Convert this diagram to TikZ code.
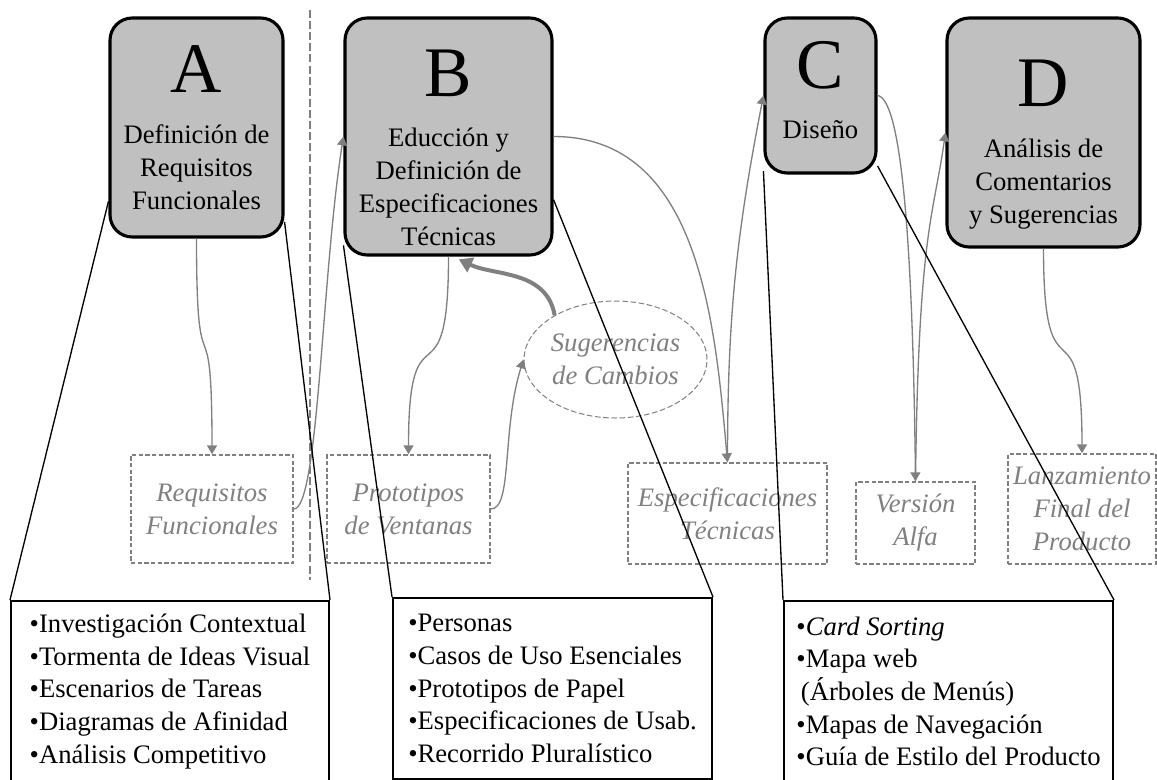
\documentclass[tikz,border=0pt]{standalone}
\usepackage{fontspec}
\setmainfont{Liberation Serif}
\usepackage{tikz}
\usepackage{xcolor}
\usetikzlibrary{shapes.geometric,
	arrows.meta,
	positioning}

\definecolor{stagefill}{HTML}{C0C0C0}
\definecolor{linkgray}{HTML}{808080}

\tikzset{
	dims/.style 2 args={minimum width=#1*0.45pt, minimum height=#2*0.45pt},
	stage/.style={draw, line width=1.4pt, rounded corners=10pt, fill=stagefill, align=center, inner sep=0pt, font=\fontsize{12}{14.8}\selectfont},
	product/.style={draw=linkgray, text=linkgray, dash pattern=on 2pt off 1pt, line width=0.7pt, align=center, inner sep=1pt, font=\itshape\fontsize{12}{14.8}\selectfont},
	idea/.style={ellipse, draw=linkgray, text=linkgray, dash pattern=on 2.5pt off 1.2pt, line width=0.45pt, align=center, inner sep=0pt, font=\itshape\fontsize{12}{14.8}\selectfont},
	techlist/.style={draw, line width=0.9pt, anchor=north west, align=left, inner sep=0pt, font=\fontsize{12}{14.7}\selectfont},
	conn/.style={draw=linkgray, line width=0.6pt, -{Triangle[width=4.5pt,length=4pt]}},
	feedback/.style={draw=linkgray, line width=1.8pt, -{Triangle[width=7pt,length=6pt]}},
	callout/.style={draw=black, line width=0.6pt}
}

\newcommand{\stageletter}[2][0pt]{{\fontsize{32}{32}\selectfont\rule{0pt}{#1}#2}}

\begin{document}
\begin{tikzpicture}[x=0.45pt, y=0.45pt]
                            \useasboundingbox (0,0) rectangle (1157,-779);
                            \node (boxA) [stage, dims={173}{219}] at (196.5,-127.5) {\stageletter[26pt]{A}\\[8pt] Definición de\\ Requisitos\\ Funcionales\rule[-5pt]{0pt}{5pt}};
                            \node (boxB) [stage, dims={207}{237}] at (448.5,-136.5) {\stageletter[31pt]{B}\\[8pt] Educción y\\ Definición de\\ Especificaciones\\ Técnicas};
                            \node (boxC) [stage, dims={111}{155}] at (820.5,-95.5) {\stageletter{C}\\[8pt] Diseño\rule[-5pt]{0pt}{5pt}};
                            \node (boxD) [stage, dims={193}{229}] at (1043.5,-132.5) {\stageletter[32pt]{D}\\[8pt] Análisis de\\ Comentarios\\ y Sugerencias};
                            \draw [linkgray, line width=0.7pt, dash pattern=on 3.6pt off 1.4pt] (310,-10) -- (310,-580);
                            \node (req) [product, dims={162}{108}] at (212,-509) {Requisitos\\ Funcionales};
                            \node (proto) [product, dims={163}{108}] at (408.5,-509) {Prototipos\\ de Ventanas};
                            \node (sug) [idea, dims={163}{117}] at (615.5,-359.5) {Sugerencias\\ de Cambios};
                            \node (espec) [product, dims={199}{101}] at (727.5,-513.5) {Especificaciones\\ Técnicas};
                            \node (alfa) [product, dims={119}{82}] at (915.5,-523) {Versión\\ Alfa};
                            \node (lanz) [product, dims={148}{110}] at (1082,-509) {Lanzamiento\\ Final del\\ Producto};
                            \node (bot1) [techlist, dims={318}{181}] at (10,-600) {•Investigación Contextual\\ •Tormenta de Ideas Visual\\ •Escenarios de Tareas\\ •Diagramas de Afinidad\\ •Análisis Competitivo};
                            \node (bot2) [techlist, dims={319}{181}] at (392,-597) {•Personas\\ •Casos de Uso Esenciales\\ •Prototipos de Papel\\ •Especificaciones de Usab.\\ •Recorrido Pluralístico};
                            \node (bot3) [techlist, dims={329}{181}] at (783,-600) {•\textit{Card Sorting}\\ •Mapa web\\ \hspace*{2pt}(Árboles de Menús)\\ •Mapas de Navegación\\ •Guía de Estilo del Producto};
                            \draw [conn] (boxA.south) to[out=-90, in=90, looseness=2] (req.north);
                            \draw [conn] (req.east) .. controls +(25,0) and +(-22,-140) .. (boxB.west);
                            \draw [conn] (boxB.south) to[out=-90, in=90, looseness=2] (proto.north);
                            \draw [conn] (proto.east) .. controls +(22,0) and +(-22,-70) .. (sug.west);
                            \draw [feedback, shorten >=3pt] (sug.144) to[out=100, in=-25] (boxB.-88);
                            \draw [conn] (boxB.east) to[out=0, in=95] (espec.north);
                            \draw [conn] (espec.north) to[out=90, in=259] (boxC.west);
                            \draw [conn] (boxC.east) .. controls +(22,-3) and +(-3,260) .. (alfa.north);
                            \draw [conn] (alfa.north) .. controls +(3,250) and +(-12,-85) .. (boxD.west);
                            \draw [conn] (boxD.south) to[out=-90, in=90, looseness=2] (lanz.north);
                            \draw [callout] (boxA.220) -- (bot1.north west);
                            \draw [callout] (boxA.-47) -- (bot1.north east);
                            \draw [callout] (boxB.226) -- (bot2.north west);
                            \draw [callout] (boxB.-31) -- (bot2.north east);
                            \draw [callout] (boxC.233) -- (bot3.north west);
                            \draw [callout] (boxC.-51) -- (bot3.north east);
                        \end{tikzpicture}
\end{document}
